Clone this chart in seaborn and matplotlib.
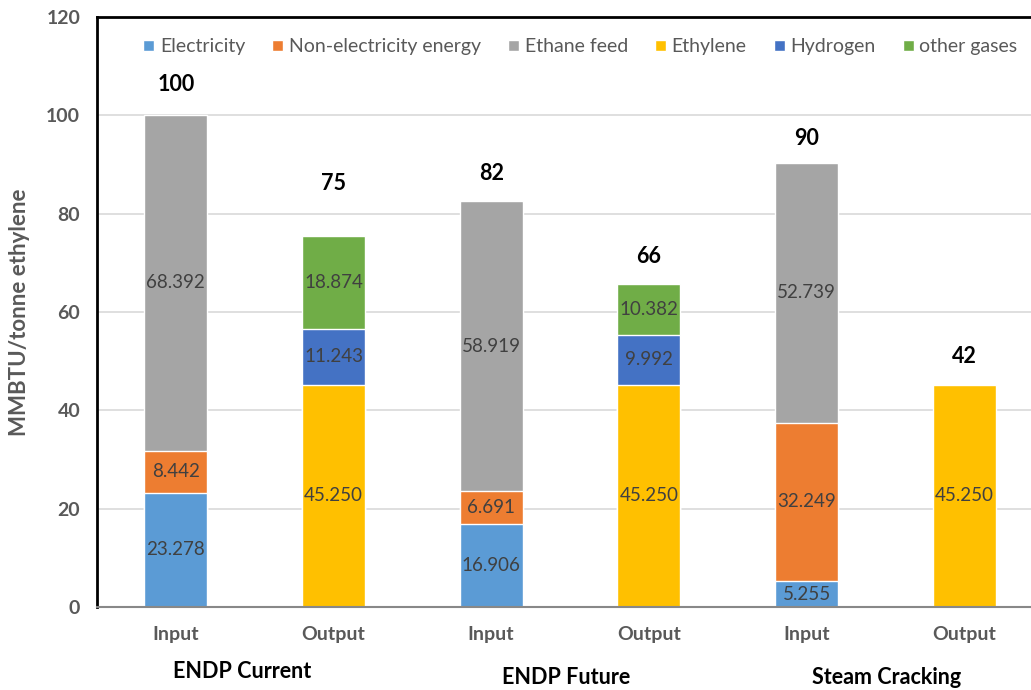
"""Stacked energy input/output bars for ethylene production routes."""

import matplotlib.pyplot as plt
import pandas as pd
import seaborn as sns
from matplotlib.patches import Patch

# bars, left to right
BAR_IDS = ["cur_in", "cur_out", "fut_in", "fut_out", "sc_in", "sc_out"]
BAR_TICKS = ["Input", "Output", "Input", "Output", "Input", "Output"]
GROUP_NAMES = ["ENDP Current", "ENDP Future", "Steam Cracking"]
TOTAL_LABELS = ["100", "75", "82", "66", "90", "42"]

# components, in legend order
COMPONENTS = ["Electricity", "Non-electricity energy", "Ethane feed",
              "Ethylene", "Hydrogen", "other gases"]

# segments per bar, bottom to top
SEG_BAR = ["cur_in", "cur_in", "cur_in",
           "cur_out", "cur_out", "cur_out",
           "fut_in", "fut_in", "fut_in",
           "fut_out", "fut_out", "fut_out",
           "sc_in", "sc_in", "sc_in",
           "sc_out"]
SEG_COMP = ["Electricity", "Non-electricity energy", "Ethane feed",
            "Ethylene", "Hydrogen", "other gases",
            "Electricity", "Non-electricity energy", "Ethane feed",
            "Ethylene", "Hydrogen", "other gases",
            "Electricity", "Non-electricity energy", "Ethane feed",
            "Ethylene"]
SEG_VALUE = [23.278, 8.442, 68.392,
             45.250, 11.243, 18.874,
             16.906, 6.691, 58.919,
             45.250, 9.992, 10.382,
             5.255, 32.249, 52.739,
             45.250]

PALETTE = {
    "Electricity": "#5B9BD5",
    "Non-electricity energy": "#ED7D31",
    "Ethane feed": "#A5A5A5",
    "Ethylene": "#FFC000",
    "Hydrogen": "#4472C4",
    "other gases": "#70AD47",
}
TEXT_GRAY = "#595959"


def build_segments() -> pd.DataFrame:
    df = pd.DataFrame({"bar": SEG_BAR, "component": SEG_COMP, "value": SEG_VALUE})
    df["top"] = df.groupby("bar")["value"].cumsum()
    df["bottom"] = df["top"] - df["value"]
    df["level"] = df.groupby("bar").cumcount()
    return df


def main() -> None:
    sns.set_theme(style="white")
    plt.rcParams["font.family"] = ["Lato", "DejaVu Sans"]

    df = build_segments()

    fig = plt.figure(figsize=(10.31, 6.90), dpi=100)
    ax = fig.add_axes([0.094, 0.1203, 0.906, 0.8551])

    # draw cumulative tops, highest level first so lower segments overlay
    for level in sorted(df["level"].unique(), reverse=True):
        sub = df[df["level"] == level]
        sns.barplot(data=sub, x="bar", y="top", hue="component", order=BAR_IDS,
                    palette=PALETTE, dodge=False, width=0.4, saturation=1,
                    legend=False, ax=ax, zorder=2)

    pos = {b: i for i, b in enumerate(BAR_IDS)}
    for _, row in df.iterrows():
        ax.text(pos[row["bar"]], row["bottom"] + row["value"] / 2, f"{row['value']:.3f}",
                ha="center", va="center", fontsize=13.5, color="#404040", zorder=3)

    totals = df.groupby("bar")["top"].max()
    offsets = [22, 38, 20, 20, 18, 20]
    for i, b in enumerate(BAR_IDS):
        ax.annotate(TOTAL_LABELS[i], (i, totals[b]), xytext=(0, offsets[i]),
                    textcoords="offset points", ha="center", va="center",
                    fontsize=15.5, fontweight="bold", color="black")

    ax.set_ylim(0, 120)
    ax.set_xlim(-0.5, 5.423)
    ax.set_yticks(range(0, 121, 20))
    ax.yaxis.grid(True, color="#D9D9D9", linewidth=1.2, zorder=0)
    ax.set_axisbelow(True)
    ax.set_xticks(range(len(BAR_IDS)))
    ax.set_xticklabels(BAR_TICKS)
    ax.tick_params(axis="x", length=0, pad=14, labelsize=14, labelcolor=TEXT_GRAY)
    ax.tick_params(axis="y", length=0, pad=12, labelsize=14, labelcolor=TEXT_GRAY)
    for lab in ax.get_xticklabels() + ax.get_yticklabels():
        lab.set_fontweight("bold")
    ax.set_xlabel("")
    ax.set_ylabel("MMBTU/tonne ethylene", fontsize=16, fontweight="bold",
                  color=TEXT_GRAY)
    ax.yaxis.set_label_coords(-0.072, 0.5)

    for side in ["left", "top"]:
        ax.spines[side].set_color("black")
        ax.spines[side].set_linewidth(2)
    ax.spines["bottom"].set_color("#888888")
    ax.spines["bottom"].set_linewidth(1.5)
    ax.spines["right"].set_visible(False)

    handles = [Patch(facecolor=PALETTE[c], label=c) for c in COMPONENTS]
    leg = fig.legend(handles=handles, loc="center", bbox_to_anchor=(0.563, 0.932),
                     ncol=6, frameon=False, fontsize=14, handlelength=0.55,
                     handleheight=0.55, handletextpad=0.3, columnspacing=1.4)
    for t in leg.get_texts():
        t.set_color(TEXT_GRAY)

    group_x = [242, 566, 887]
    group_y = [672, 678, 678]
    for name, gx, gy in zip(GROUP_NAMES, group_x, group_y):
        fig.text(gx / 1031, 1 - gy / 690, name, ha="center", va="center",
                 fontsize=15.5, fontweight="bold", color="black")

    fig.savefig("out.png", dpi=100)
    plt.close(fig)


if __name__ == "__main__":
    main()
